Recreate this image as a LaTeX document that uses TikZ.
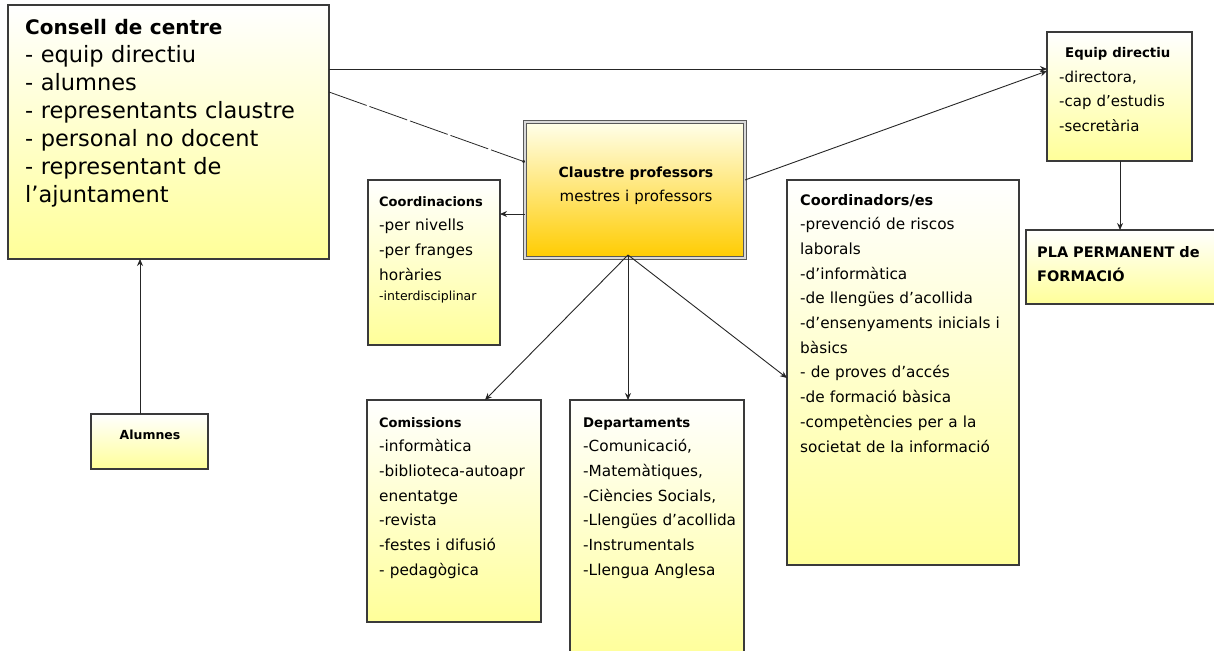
\documentclass[tikz,border=0pt]{standalone}
\usepackage{fontspec}
\setmainfont{DejaVu Sans}
\usetikzlibrary{arrows.meta,calc}
\definecolor{yel}{HTML}{FFFF99}
\definecolor{gold}{HTML}{FFCC00}
\definecolor{bord}{HTML}{3A3A3A}
\newcommand{\ttl}[2]{{\fontsize{#1}{10}\selectfont\bfseries #2}}
\begin{document}
\begin{tikzpicture}[x=1pt,y=-1pt,
  box/.style={draw=bord, line width=1.1pt, top color=white, bottom color=yel, anchor=north west, inner sep=0pt, outer sep=0pt, rectangle},
  txt/.style={anchor=base west, inner sep=0pt, align=left, font=\fontsize{15.3}{24.7}\selectfont},
  conn/.style={draw=black!85, line width=0.9pt},
  arr/.style={conn, -{Stealth[length=7pt,width=6pt]}}
]
\useasboundingbox (0,0) rectangle (1214,650);
% boxes
\node[box, minimum width=321pt, minimum height=254pt] (consell) at (8,5) {};
\node[box, minimum width=220pt, minimum height=136pt, top color=white!92!yellow, bottom color=gold, draw=black!65, double=white!85!black, double distance=1.6pt, line width=0.8pt] (claustre) at (525,122) {};
\node[box, minimum width=132pt, minimum height=165pt] (coordinacions) at (368,180) {};
\node[box, minimum width=174pt, minimum height=222pt] (comissions) at (367,400) {};
\node[box, minimum width=174pt, minimum height=260pt] (departaments) at (570,400) {};
\node[box, minimum width=232pt, minimum height=385pt] (coordinadors) at (787,180) {};
\node[box, minimum width=145pt, minimum height=129pt] (equip) at (1047,32) {};
\node[box, minimum width=195pt, minimum height=74pt] (pla) at (1026,230) {};
\node[box, minimum width=117pt, minimum height=55pt] (alumnes) at (91,414) {};
% texts
\node[txt, text width=310pt, font=\fontsize{22.5}{28}\selectfont] (tconsell) at (25,35) {\ttl{20}{Consell de centre}\\- equip directiu\\- alumnes\\- representants claustre\\- personal no docent\\- representant de\\l’ajuntament};
\node[txt, text width=215pt, align=center, anchor=base] (tclaustre) at (636,177) {{\fontsize{14}{21}\selectfont\textbf{Claustre professors}}\\{\fontsize{15}{21}\selectfont mestres i professors}};
\node[txt, text width=125pt] (tcoordinacions) at (379,206) {\ttl{13}{Coordinacions}\\-per nivells\\-per franges\\horàries\\[-4pt]{\fontsize{12.5}{13}\selectfont -interdisciplinar}};
\node[txt, text width=170pt] (tcomissions) at (379,427) {\ttl{13}{Comissions}\\-informàtica\\-biblioteca-autoapr\\enentatge\\-revista\\-festes i difusió\\- pedagògica};
\node[txt, text width=170pt] (tdepartaments) at (583,427) {\ttl{13.3}{Departaments}\\-Comunicació,\\-Matemàtiques,\\-Ciències Socials,\\-Llengües d’acollida\\-Instrumentals\\-Llengua Anglesa};
\node[txt, text width=225pt] (tcoordinadors) at (800,205) {\ttl{14.5}{Coordinadors/es}\\-prevenció de riscos\\laborals\\-d’informàtica\\-de llengües d’acollida\\-d’ensenyaments inicials i\\bàsics\\- de proves d’accés\\-de formació bàsica\\-competències per a la\\societat de la informació};
\node[txt, text width=140pt, font=\fontsize{15}{24.5}\selectfont] (tequip) at (1059,58) {\hspace*{6pt}\ttl{13.3}{Equip directiu}\\-directora,\\-cap d’estudis\\-secretària};
\node[txt, text width=185pt, font=\fontsize{14.5}{24}\selectfont\bfseries] (tpla) at (1037,257) {PLA PERMANENT de\\FORMACIÓ};
\node[txt, anchor=base, font=\fontsize{12.5}{18}\selectfont\bfseries] (talumnes) at (150,439) {Alumnes};
% connectors
\coordinate (cb) at (628,255);
\draw[arr] (consell.east |- 0,69) -- (equip.west |- 0,69);
\draw[arr] (claustre.east |- 0,180) -- (equip.west |- 0,71);
\draw[conn, dash pattern=on 40pt off 3pt, line width=0.8pt, -{Circle[length=3pt]}] (consell.east |- 0,92) -- (claustre.west |- 0,162);
\draw[arr] (claustre.west |- 0,214) -- (coordinacions.east |- 0,214);
\draw[arr] (cb) -- (comissions.north -| 485,0);
\draw[arr] (cb) -- (departaments.north -| 628,0);
\draw[arr] (cb) -- (coordinadors.west |- 0,378);
\draw[arr] (equip.south -| 1120,0) -- (pla.north -| 1120,0);
\draw[arr] (alumnes.north -| 140,0) -- (consell.south -| 140,0);
\end{tikzpicture}
\end{document}
